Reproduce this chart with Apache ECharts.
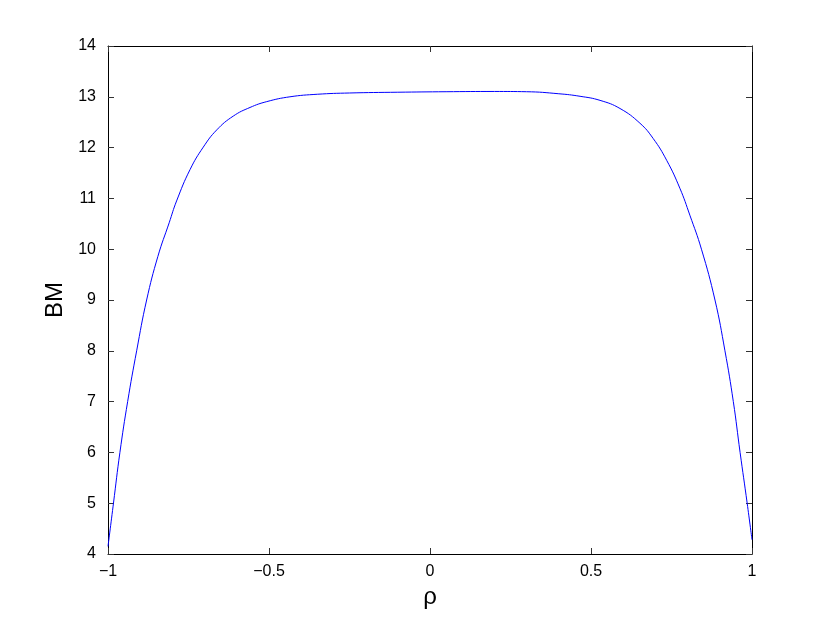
<!DOCTYPE html>
<html>
<head>
<meta charset="utf-8">
<script src="https://cdn.jsdelivr.net/npm/echarts@6/dist/echarts.min.js"></script>
<style>html,body{margin:0;padding:0;background:#fff}#chart{width:830px;height:625px}</style>
</head>
<body>
<div id="chart"></div>
<script>
const rho = [-1, -0.983, -0.963, -0.939, -0.911, -0.880, -0.845, -0.81, -0.787, -0.745, -0.704, -0.662, -0.611, -0.559, -0.507, -0.435, -0.35, -0.25, -0.1, 0.05, 0.2, 0.3, 0.4, 0.466, 0.528, 0.590, 0.652, 0.693, 0.735, 0.776, 0.807, 0.843, 0.885, 0.916, 0.942, 0.963, 0.985, 1];
const bm = [4.15, 5.0, 6.0, 7.0, 8.0, 9.0, 9.86, 10.52, 10.95, 11.57, 12.01, 12.35, 12.62, 12.79, 12.905, 13.0, 13.05, 13.075, 13.09, 13.10, 13.105, 13.10, 13.06, 13.01, 12.93, 12.77, 12.48, 12.18, 11.75, 11.20, 10.67, 10.0, 9.0, 8.0, 7.0, 6.0, 5.0, 4.28];
const xTicks = [-1, -0.5, 0, 0.5, 1];
const yTicks = [4, 5, 6, 7, 8, 9, 10, 11, 12, 13, 14];

const fmt = v => String(v).replace('-', '\u2212');
const chart = echarts.init(document.getElementById('chart'), null, {renderer: 'canvas'});
const tickStyle = {show: true, inside: true, length: 6, lineStyle: {color: '#333', width: 1}};
const lineStyle = {show: true, onZero: false, lineStyle: {color: '#000', width: 1}};
chart.setOption({
  animation: false,
  backgroundColor: '#fff',
  grid: {left: 108, top: 46, right: 78, bottom: 71, containLabel: false},
  xAxis: [{
    type: 'value', min: xTicks[0], max: xTicks[xTicks.length - 1], interval: 0.5,
    axisLine: lineStyle, axisTick: tickStyle, splitLine: {show: false},
    axisLabel: {formatter: fmt, color: '#000', fontSize: 16, fontFamily: 'Liberation Sans', margin: 10},
    name: 'ρ', nameLocation: 'middle', nameGap: 28,
    nameTextStyle: {color: '#000', fontSize: 24, fontFamily: 'Liberation Sans'}
  }, {
    type: 'value', position: 'top', min: xTicks[0], max: xTicks[xTicks.length - 1], interval: 0.5,
    axisLine: lineStyle, axisTick: tickStyle, splitLine: {show: false}, axisLabel: {show: false}
  }],
  yAxis: [{
    type: 'value', min: yTicks[0], max: yTicks[yTicks.length - 1], interval: 1,
    axisLine: lineStyle, axisTick: tickStyle, splitLine: {show: false},
    axisLabel: {formatter: fmt, color: '#000', fontSize: 16, fontFamily: 'Liberation Sans', margin: 12},
    name: 'BM', nameLocation: 'middle', nameGap: 40, nameRotate: 90,
    nameTextStyle: {color: '#000', fontSize: 24, fontFamily: 'Liberation Sans'}
  }, {
    type: 'value', position: 'right', min: yTicks[0], max: yTicks[yTicks.length - 1], interval: 1,
    axisLine: lineStyle, axisTick: tickStyle, splitLine: {show: false}, axisLabel: {show: false}
  }],
  series: [{
    type: 'line',
    data: rho.map((r, i) => [r, bm[i]]),
    showSymbol: false,
    smooth: 0.45,
    lineStyle: {color: '#0000ff', width: 1},
    itemStyle: {color: '#0000ff'}
  }]
});
</script>
</body>
</html>
